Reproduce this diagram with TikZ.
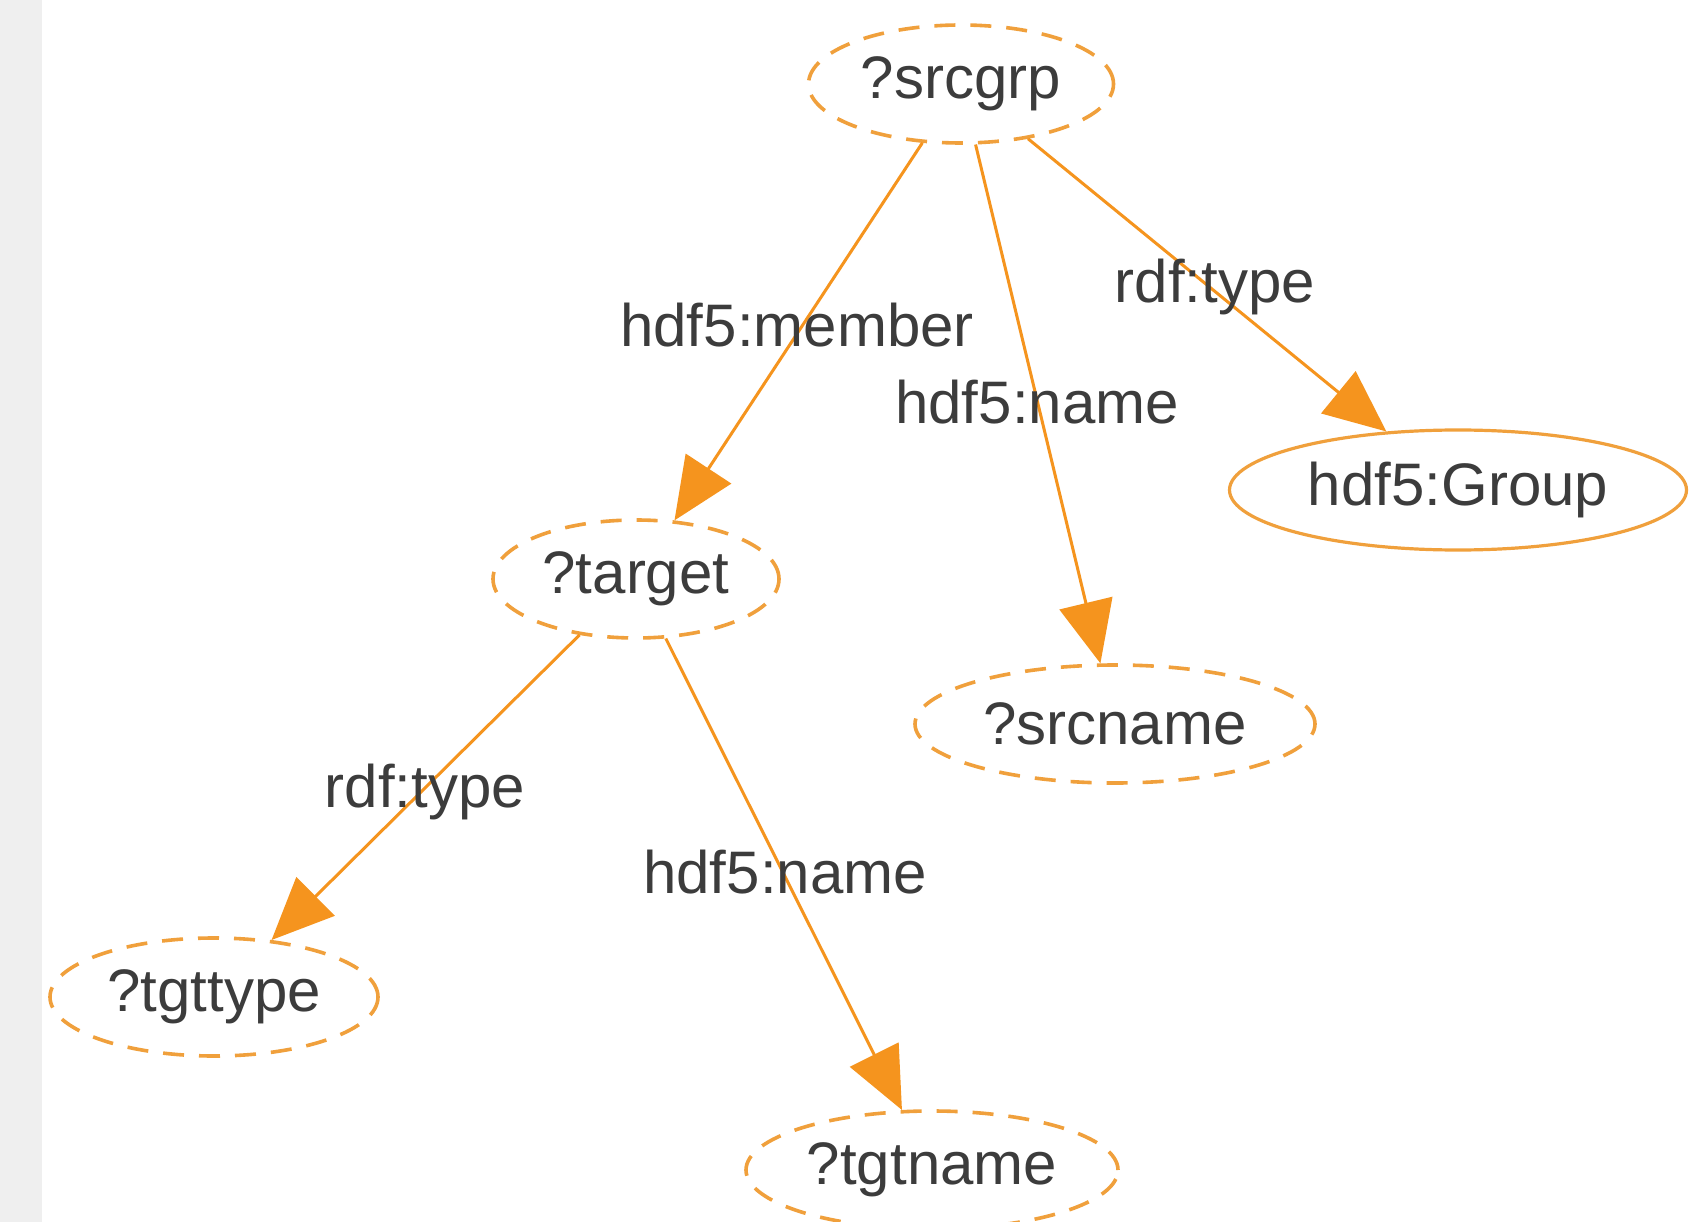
\documentclass[tikz,border=0pt]{standalone}
\usepackage{fontspec}
\setmainfont{Liberation Sans}
\usetikzlibrary{arrows.meta,shapes.geometric}
\definecolor{edgeor}{RGB}{245,148,30}
\definecolor{ellor}{RGB}{240,160,60}
\definecolor{txt}{RGB}{60,60,60}
\definecolor{strip}{RGB}{239,239,239}
\tikzset{
  var/.style={ellipse, draw=ellor, line width=3.6pt, dash pattern=on 21pt off 15pt,
    inner sep=0pt, minimum height=118pt, text=txt, font=\fontsize{60}{70}\selectfont},
  cls/.style={ellipse, draw=ellor, line width=3.2pt, inner sep=0pt, minimum height=120pt,
    text=txt, font=\fontsize{60}{70}\selectfont},
  lbl/.style={anchor=base, inner sep=0pt, text=txt, font=\fontsize{60}{70}\selectfont},
  rel/.style={draw=edgeor, line width=3pt, -{Triangle[length=62pt,width=54pt]}, edgeor}
}
\begin{document}
\begin{tikzpicture}[x=1pt,y=-1pt]
\useasboundingbox (0,0) rectangle (1700,1222);
\fill[white] (0,0) rectangle (1700,1222);
\fill[strip] (0,0) rectangle (42,1222);

\node[var, minimum width=305pt] (srcgrp) at (961,84) {?srcgrp};
\node[var, minimum width=286pt] (target) at (636,579) {?target};
\node[var, minimum width=400pt] (srcname) at (1115,724) {?srcname};
\node[cls, minimum width=457pt] (group) at (1458,490) {hdf5:Group};
\node[var, minimum width=328pt] (tgttype) at (214,997) {?tgttype};
\node[var, minimum width=372pt] (tgtname) at (932,1170) {?tgtname};

\draw[rel] (srcgrp) -- (target);
\draw[rel] (srcgrp) -- (srcname);
\draw[rel] (srcgrp) -- (group);
\draw[rel] (target) -- (tgttype);
\draw[rel] (target) -- (tgtname);

\node[lbl] (l1) at (797,347) {hdf5:member};
\node[lbl] (l2) at (1037,423) {hdf5:name};
\node[lbl] (l3) at (1215,303) {rdf:type};
\node[lbl] (l4) at (425,807) {rdf:type};
\node[lbl] (l5) at (785,893) {hdf5:name};
\end{tikzpicture}
\end{document}
